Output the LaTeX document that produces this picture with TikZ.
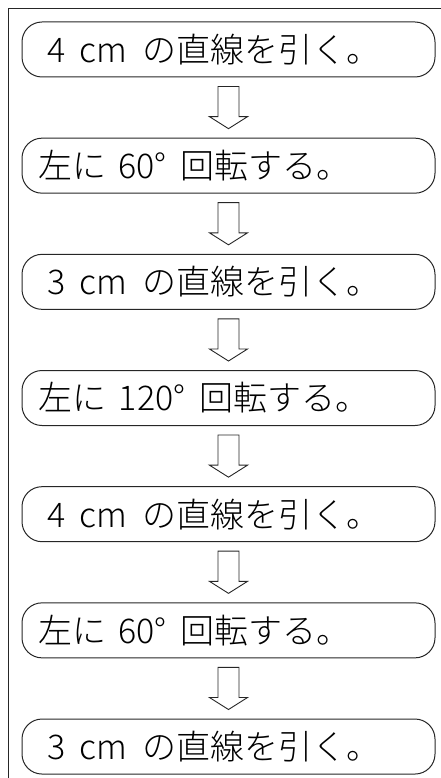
\documentclass[tikz,border=0pt]{standalone}
\usepackage{fontspec}
\IfFontExistsTF{Noto Sans CJK JP Light}
  {\newfontfamily\jpfont{Noto Sans CJK JP Light}}
  {\newfontfamily\jpfont{Noto Sans CJK JP}}
\usetikzlibrary{positioning,calc}

\tikzset{
  stepbox/.style={draw=black!85,line width=1pt,rounded corners=20pt,
    minimum width=413pt,minimum height=55pt,inner xsep=16pt,
    text width=381pt,align=left,font=\jpfont\fontsize{34}{38}\selectfont},
  arrowline/.style={draw=black!85,line width=0.9pt,line join=miter},
}

% hollow block arrow from one box down to the next
\newcommand\flowarrow[2]{%
  \draw[arrowline]
    ($(#1.south)+(-10.5pt,-9pt)$)
    --
    ($(#2.north)+(-10.5pt,21pt)$)
    --
    ++(-8.5pt,0)
    --
    ($(#2.north)+(0,9pt)$)
    --
    ($(#2.north)+(19pt,21pt)$)
    --
    ++(-8.5pt,0)
    --
    ($(#1.south)+(10.5pt,-9pt)$)
    --
    cycle;}
% texts of the two kinds of step
\newcommand\drawline[1]{\hspace{9pt}#1\hspace{14pt}cm\hspace{16pt}の直線を引く。}
\newcommand\turnleft[2]{左に\hspace{#2}#1°\hspace{14pt}回転する。}

\begin{document}
\begin{tikzpicture}[x=1pt,y=1pt,node distance=60.17pt]
  \useasboundingbox (0,0) rectangle (441,-778);
  % outer frame, cut at right and bottom
  \draw[line width=1.2pt,black!85]
    (8.5,-778) -- (8.5,-8.5) -- (441,-8.5);
  \node[stepbox] (line1) at (228.5,-49.5) {\drawline{4}};
  \node[stepbox,below=of line1] (turn1) {\turnleft{60}{12.5pt}};
  \node[stepbox,below=of turn1] (line2) {\drawline{3}};
  \node[stepbox,below=of line2] (turn2) {\turnleft{120}{13pt}};
  \node[stepbox,below=of turn2] (line3) {\drawline{4}};
  \node[stepbox,below=of line3] (turn3) {\turnleft{60}{12.5pt}};
  \node[stepbox,below=of turn3] (line4) {\drawline{3}};
  \flowarrow{line1}{turn1}
  \flowarrow{turn1}{line2}
  \flowarrow{line2}{turn2}
  \flowarrow{turn2}{line3}
  \flowarrow{line3}{turn3}
  \flowarrow{turn3}{line4}
\end{tikzpicture}
\end{document}
